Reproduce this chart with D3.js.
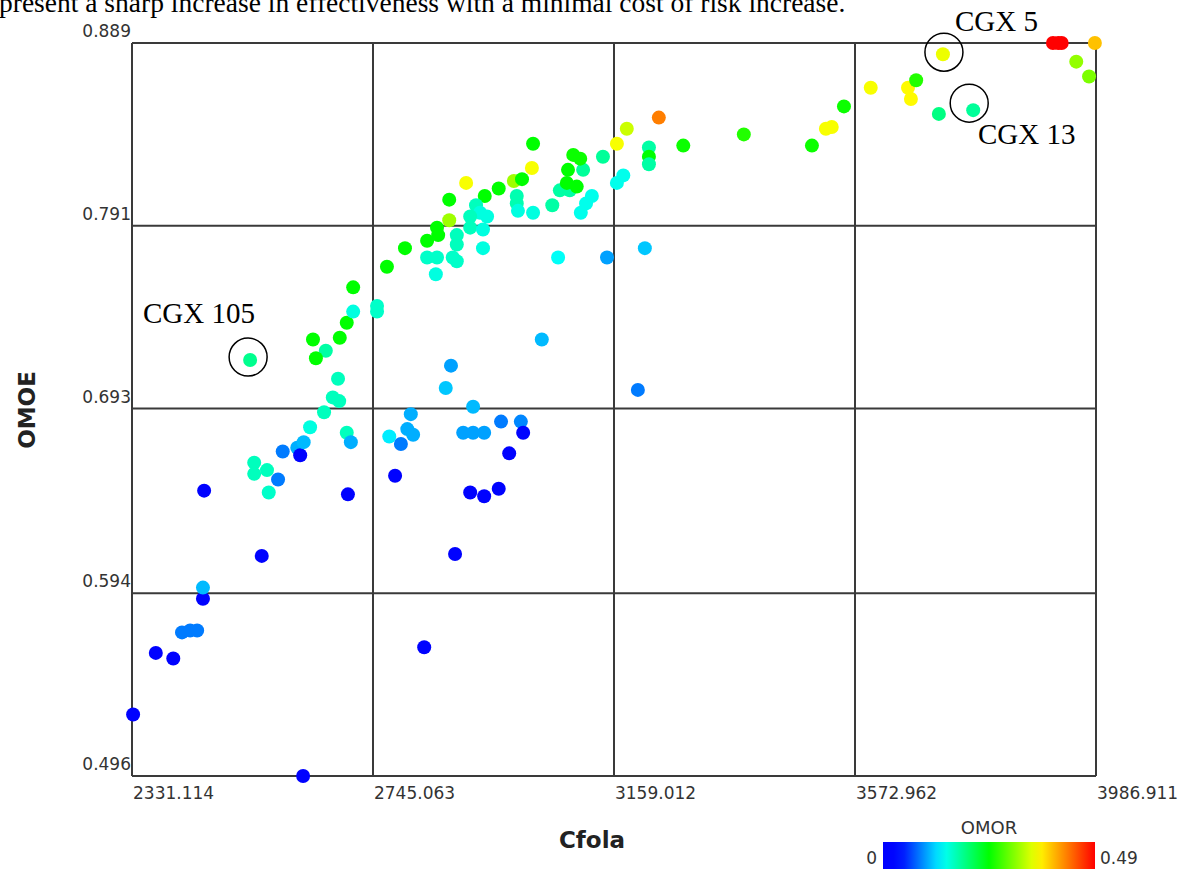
<!DOCTYPE html>
<html>
<head>
	<script src="https://cdn.jsdelivr.net/npm/d3@7"></script>
	<style>
		html, body {
			padding: 0;
			margin: 0;
			background: white;
		}
		svg {
			display: block;
		}
	</style>
</head>
<body>
	<div id="chart"></div>

	<script>
		// ticks on both axes (the chart splits each range in 4)
		var xTicks = [2331.114, 2745.063, 3159.012, 3572.962, 3986.911];
		var yTicks = [0.496, 0.594, 0.693, 0.791, 0.889];
		var xTickLabels = ["2331.114", "2745.063", "3159.012", "3572.962", "3986.911"];
		var yTickLabels = ["0.496", "0.594", "0.693", "0.791", "0.889"];

		// one entry per design point
		var cfola = [2333, 2372, 2402, 2417, 2431, 2443, 2453, 2453, 2554, 2455,
			2702, 2886, 2833, 2625, 2566, 2582, 2541, 2541, 2563, 2590,
			2615, 2620, 2626, 2637, 2661, 2676, 2687, 2685, 2700, 2707,
			2664, 2647, 2642, 2688, 2700, 2711, 2711, 2752, 2752, 2534,
			2769, 2800, 2838, 2855, 2857, 2876, 2876, 2905, 2937, 2961,
			2987, 3001, 3018, 3020, 2838, 2855, 2882, 2889, 2853, 2889,
			2889, 2912, 2934, 2922, 2929, 2941, 2934, 2992, 2992, 2994,
			3020, 3053, 3063, 3066, 3083, 3078, 3095, 3080, 3106, 3089,
			3101, 3121, 3111, 3102, 3140, 3164, 3181, 3175, 3164, 3219,
			3219, 3219, 3147, 3212, 3236, 3278, 3382, 3499, 3523, 3533,
			3554, 3600, 3664, 3669, 3678, 3724, 3717, 3776, 3913, 3922,
			3928, 3985, 3953, 3975, 3035, 2879, 2870, 3200, 2917, 2810,
			2804, 2814, 2773, 2793, 2900, 2917, 2936, 2965, 2999, 3003,
			2979, 2783, 2912, 2936, 2961, 2912];
		var omoe = [0.529, 0.562, 0.559, 0.573, 0.574, 0.574, 0.591, 0.597, 0.614, 0.649,
			0.647, 0.615, 0.565, 0.496, 0.648, 0.655, 0.664, 0.658, 0.660, 0.670,
			0.672, 0.668, 0.675, 0.683, 0.691, 0.699, 0.697, 0.709, 0.680, 0.675,
			0.724, 0.720, 0.730, 0.731, 0.739, 0.745, 0.758, 0.748, 0.745, 0.719,
			0.769, 0.779, 0.783, 0.790, 0.786, 0.794, 0.805, 0.814, 0.807, 0.811,
			0.815, 0.816, 0.822, 0.835, 0.774, 0.774, 0.774, 0.772, 0.765, 0.781,
			0.786, 0.790, 0.789, 0.802, 0.798, 0.796, 0.779, 0.807, 0.803, 0.799,
			0.798, 0.802, 0.774, 0.810, 0.810, 0.814, 0.812, 0.821, 0.821, 0.829,
			0.827, 0.807, 0.803, 0.798, 0.828, 0.835, 0.843, 0.818, 0.814, 0.833,
			0.828, 0.824, 0.774, 0.779, 0.849, 0.834, 0.840, 0.834, 0.843, 0.844,
			0.855, 0.865, 0.865, 0.859, 0.869, 0.883, 0.851, 0.853, 0.889, 0.889,
			0.889, 0.889, 0.879, 0.871, 0.730, 0.716, 0.704, 0.703, 0.694, 0.690,
			0.682, 0.679, 0.678, 0.674, 0.680, 0.680, 0.680, 0.686, 0.686, 0.680,
			0.669, 0.657, 0.648, 0.646, 0.650, 0.796];
		var omor = [0.01, 0.01, 0.01, 0.085, 0.085, 0.085, 0.01, 0.11, 0.01, 0.01,
			0.01, 0.01, 0.01, 0.01, 0.16, 0.085, 0.165, 0.165, 0.165, 0.085,
			0.105, 0.01, 0.11, 0.15, 0.165, 0.165, 0.165, 0.165, 0.165, 0.105,
			0.175, 0.245, 0.245, 0.245, 0.245, 0.15, 0.245, 0.16, 0.16, 0.185,
			0.245, 0.245, 0.245, 0.245, 0.245, 0.315, 0.245, 0.355, 0.245, 0.245,
			0.315, 0.245, 0.355, 0.245, 0.16, 0.16, 0.16, 0.16, 0.15, 0.165,
			0.165, 0.165, 0.15, 0.165, 0.15, 0.15, 0.15, 0.17, 0.17, 0.15,
			0.15, 0.175, 0.14, 0.175, 0.175, 0.245, 0.245, 0.245, 0.18, 0.25,
			0.25, 0.145, 0.145, 0.145, 0.18, 0.355, 0.335, 0.145, 0.145, 0.175,
			0.245, 0.175, 0.1, 0.115, 0.425, 0.25, 0.26, 0.25, 0.355, 0.355,
			0.25, 0.355, 0.36, 0.36, 0.26, 0.35, 0.19, 0.18, 0.49, 0.49,
			0.49, 0.39, 0.31, 0.3, 0.11, 0.1, 0.115, 0.085, 0.11, 0.105,
			0.105, 0.105, 0.13, 0.085, 0.1, 0.1, 0.1, 0.085, 0.09, 0.015,
			0.01, 0.01, 0.01, 0.01, 0.01, 0.165];

		// circled designs
		var calloutNames = ["CGX 105", "CGX 5", "CGX 13"];
		var calloutIndex = [39, 105, 107];

		var caption = "present a sharp increase in effectiveness with a minimal cost of risk increase.";
		var omorMax = 0.49;

		var width = 1181, height = 869;
		var plotL = 132, plotR = 1096, plotT = 43, plotB = 776;

		var svg = d3.select("#chart").append("svg")
			.attr("width", width)
			.attr("height", height);

		var x = d3.scaleLinear().domain([xTicks[0], xTicks[4]]).range([plotL, plotR]);
		var y = d3.scaleLinear().domain([yTicks[0], yTicks[4]]).range([plotB, plotT]);

		// jet-ish colour ramp like the legend
		var color = d3.scaleLinear()
			.domain([0, 0.04, 0.137, 0.245, 0.358, 0.49])
			.range(["#0000ff", "#0008ff", "#00ffff", "#00ff00", "#ffff00", "#ff0000"])
			.clamp(true);

		// cut-off line of text above the figure (only its lower half shows)
		svg.append("text")
			.attr("x", -1)
			.attr("y", 12)
			.style("font", "27.5px 'Liberation Serif', 'Times New Roman', serif")
			.text(caption);

		// grid
		var grid = svg.append("g")
			.attr("stroke", "#3a3a3a")
			.attr("stroke-width", 2);
		grid.selectAll(".vx").data(xTicks).enter().append("line")
			.attr("x1", function(d) { return x(d); })
			.attr("x2", function(d) { return x(d); })
			.attr("y1", plotT)
			.attr("y2", plotB);
		grid.selectAll(".hy").data(yTicks).enter().append("line")
			.attr("x1", plotL)
			.attr("x2", plotR)
			.attr("y1", function(d) { return y(d); })
			.attr("y2", function(d) { return y(d); });

		// tick labels
		var tickFont = "17px 'DejaVu Sans', Verdana, sans-serif";
		svg.selectAll(".xl").data(xTicks).enter().append("text")
			.attr("x", function(d) { return x(d) + 1; })
			.attr("y", plotB + 23)
			.style("font", tickFont)
			.attr("fill", "#333")
			.text(function(d, i) { return xTickLabels[i]; });
		svg.selectAll(".yl").data(yTicks).enter().append("text")
			.attr("x", plotL - 1)
			.attr("y", function(d) { return y(d) - 6; })
			.attr("text-anchor", "end")
			.style("font", tickFont)
			.attr("fill", "#333")
			.text(function(d, i) { return yTickLabels[i]; });

		// axis titles
		svg.append("text")
			.attr("x", 592)
			.attr("y", 848)
			.attr("text-anchor", "middle")
			.style("font", "bold 23px 'DejaVu Sans', Verdana, sans-serif")
			.attr("fill", "#222")
			.text("Cfola");
		svg.append("text")
			.attr("transform", "translate(35,410) rotate(-90)")
			.attr("text-anchor", "middle")
			.style("font", "bold 23px 'DejaVu Sans', Verdana, sans-serif")
			.attr("fill", "#222")
			.text("OMOE");

		// points
		var pts = d3.range(cfola.length);
		svg.append("g").selectAll("circle")
			.data(pts)
			.enter().append("circle")
			.attr("cx", function(i) { return x(cfola[i]); })
			.attr("cy", function(i) { return y(omoe[i]); })
			.attr("r", 7)
			.attr("fill", function(i) { return color(omor[i]); });

		// callouts
		var ringShift = [[-2, -3], [1, -2], [-4, -7]];
		var labelPos = [[143, 323], [955, 31], [978, 144]];
		calloutIndex.forEach(function(idx, k) {
			svg.append("circle")
				.attr("cx", x(cfola[idx]) + ringShift[k][0])
				.attr("cy", y(omoe[idx]) + ringShift[k][1])
				.attr("r", 19)
				.attr("fill", "none")
				.attr("stroke", "black")
				.attr("stroke-width", 1.5);
			svg.append("text")
				.attr("x", labelPos[k][0])
				.attr("y", labelPos[k][1])
				.style("font", "29px 'Liberation Serif', 'Times New Roman', serif")
				.text(calloutNames[k]);
		});

		// colour legend
		var lgX = 883, lgW = 212, lgY = 842, lgH = 30;
		var grad = svg.append("defs").append("linearGradient")
			.attr("id", "omor-grad");
		grad.selectAll("stop")
			.data(d3.range(0, 1.0001, 0.05))
			.enter().append("stop")
			.attr("offset", function(d) { return d; })
			.attr("stop-color", function(d) { return color(d * omorMax); });
		svg.append("rect")
			.attr("x", lgX)
			.attr("y", lgY)
			.attr("width", lgW)
			.attr("height", lgH)
			.attr("fill", "url(#omor-grad)");
		svg.append("text")
			.attr("x", lgX + lgW / 2)
			.attr("y", lgY - 8)
			.attr("text-anchor", "middle")
			.style("font", "18px 'DejaVu Sans', Verdana, sans-serif")
			.attr("fill", "#333")
			.text("OMOR");
		svg.append("text")
			.attr("x", lgX - 6)
			.attr("y", 864)
			.attr("text-anchor", "end")
			.style("font", "17px 'DejaVu Sans', Verdana, sans-serif")
			.attr("fill", "#333")
			.text("0");
		svg.append("text")
			.attr("x", lgX + lgW + 5)
			.attr("y", 864)
			.style("font", "17px 'DejaVu Sans', Verdana, sans-serif")
			.attr("fill", "#333")
			.text(omorMax);
	</script>
</body>
</html>
